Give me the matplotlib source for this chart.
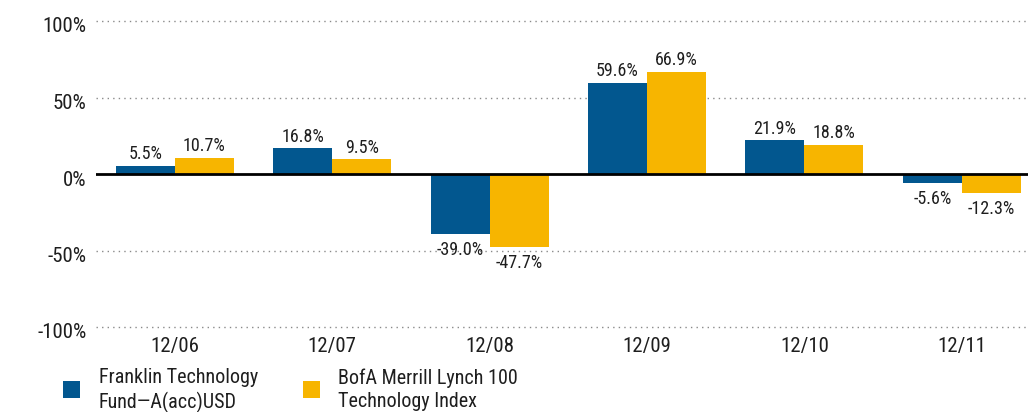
import matplotlib
matplotlib.use("Agg")
import matplotlib.pyplot as plt
import matplotlib.transforms as mtransforms
import numpy as np
from matplotlib.patches import Rectangle

categories = ["12/06", "12/07", "12/08", "12/09", "12/10", "12/11"]
fund = [5.5, 16.8, -39.0, 59.6, 21.9, -5.6]
index = [10.7, 9.5, -47.7, 66.9, 18.8, -12.3]
series_names = ["Franklin Technology\nFund\u2014A(acc)USD", "BofA Merrill Lynch 100\nTechnology Index"]
yticks = [-100, -50, 0, 50, 100]

BLUE = "#02578F"
YELLOW = "#F7B500"
TXT = "#1e1e1e"
plt.rcParams['font.family'] = ["Roboto Condensed", "DejaVu Sans"]

W, H = 1028, 412
fig = plt.figure(figsize=(W/100, H/100), dpi=100)
ax = fig.add_axes([96/W, 1-327/H, (W-96)/W, (327-21)/H])

x = np.arange(len(categories))
w = 0.375
b1 = ax.bar(x - w/2, fund, w, color=BLUE, zorder=2)
b2 = ax.bar(x + w/2, index, w, color=YELLOW, zorder=2)

for bars, vals in ((b1, fund), (b2, index)):
    for r, v in zip(bars, vals):
        cx = r.get_x() + r.get_width()/2
        if v >= 0:
            ax.annotate(f"{v:.1f}%", (cx, v), xytext=(0, 2), textcoords="offset points",
                        ha="center", va="bottom", fontsize=13, color=TXT)
        else:
            ax.annotate(f"{v:.1f}%", (cx, v), xytext=(0, -5), textcoords="offset points",
                        ha="center", va="top", fontsize=13, color=TXT)

ax.set_xlim(-0.5, 5.42)
ax.set_ylim(-100, 100)
for t in yticks:
    if t == 0:
        ax.axhline(0, color="black", lw=2.0, zorder=3)
    else:
        ax.axhline(t, color="#8a8a8a", lw=1.0, ls=(0, (1, 3)), zorder=1, clip_on=False)

ax.set_yticks(yticks)
ax.set_yticklabels([f"{t}%" for t in yticks], fontsize=15, color=TXT)
ax.set_xticks(x)
ax.set_xticklabels(categories, fontsize=15, color=TXT)
ax.tick_params(length=0)
ax.tick_params(axis='y', pad=7)
ax.tick_params(axis='x', pad=7)
shift = mtransforms.ScaledTranslation(0, -4/100, fig.dpi_scale_trans)
for lab in ax.get_yticklabels():
    lab.set_transform(lab.get_transform() + shift)
for s in ax.spines.values():
    s.set_visible(False)

# legend drawn by hand (squares + two-line labels)
for (sq_x, tx_x), col, name in zip(((63, 99), (303, 338)), (BLUE, YELLOW), series_names):
    fig.add_artist(Rectangle((sq_x/W, 1-398/H), 17/W, 17/H, transform=fig.transFigure,
                             facecolor=col, edgecolor="none"))
    fig.text(tx_x/W, 1-368/H, name, ha="left", va="top", fontsize=14.5,
             color=TXT, linespacing=1.3)

fig.savefig("out.png", dpi=100)
